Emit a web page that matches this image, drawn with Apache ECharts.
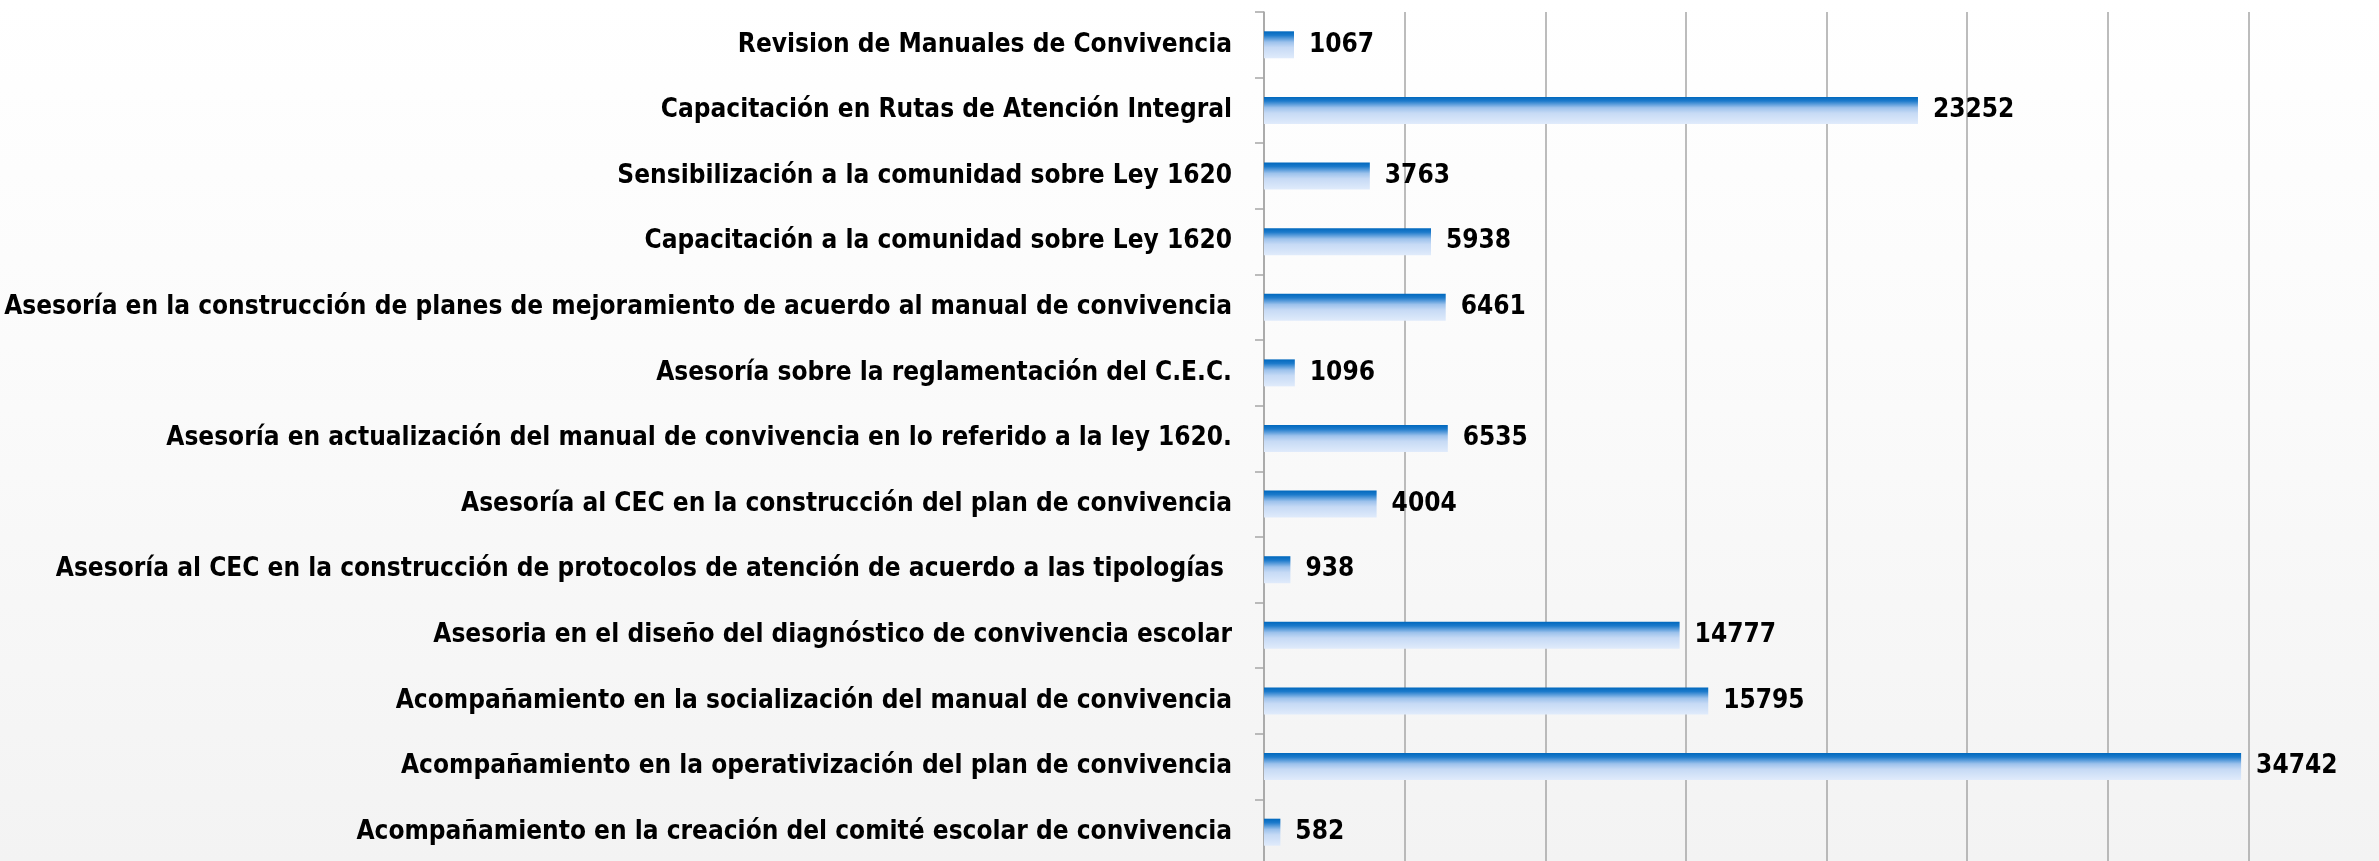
<!DOCTYPE html>
<html>
<head>
<meta charset="utf-8">
<script src="https://cdn.jsdelivr.net/npm/echarts@6/dist/echarts.min.js"></script>
<style>
html, body { margin: 0; padding: 0; }
#main { width: 2379px; height: 861px; }
</style>
</head>
<body>
<div id="main"></div>
<script>
var categories = [
    'Revision de Manuales de Convivencia',
    'Capacitación en Rutas de Atención Integral',
    'Sensibilización a la comunidad sobre Ley 1620',
    'Capacitación a la comunidad sobre Ley 1620',
    'Asesoría en la construcción de planes de mejoramiento de acuerdo al manual de convivencia',
    'Asesoría sobre la reglamentación del C.E.C.',
    'Asesoría en actualización del manual de convivencia en lo referido a la ley 1620.',
    'Asesoría al CEC en la construcción del plan de convivencia',
    'Asesoría al CEC en la construcción de protocolos de atención de acuerdo a las tipologías ',
    'Asesoria en el diseño del diagnóstico de convivencia escolar',
    'Acompañamiento en la socialización del manual de convivencia',
    'Acompañamiento en la operativización del plan de convivencia',
    'Acompañamiento en la creación del comité escolar de convivencia'
];

var values = [1067, 23252, 3763, 5938, 6461, 1096, 6535, 4004, 938, 14777, 15795, 34742, 582];

// narrow bold face, closest to the original's look
var labelFont = '"DejaVu Sans Condensed", "DejaVu Sans", sans-serif';

var chart = echarts.init(document.getElementById('main'));

var option = {
    backgroundColor: new echarts.graphic.LinearGradient(0, 0, 0, 1, [
        { offset: 0, color: '#ffffff' },
        { offset: 0.4, color: '#fbfbfb' },
        { offset: 1, color: '#f3f3f3' }
    ]),
    animation: false,
    grid: {
        left: 1264,
        top: 12,
        width: 1125,
        height: 853,
        containLabel: false,
        outerBoundsMode: 'none'
    },
    xAxis: {
        type: 'value',
        min: 0,
        max: 40000,
        interval: 5000,
        axisLabel: { show: false },
        axisLine: { show: false },
        axisTick: { show: false },
        splitLine: {
            show: true,
            lineStyle: { color: '#a6a6a6', width: 1.5 }
        }
    },
    yAxis: {
        type: 'category',
        data: categories,
        inverse: true,
        axisLine: {
            show: true,
            lineStyle: { color: '#a6a6a6', width: 1.5 }
        },
        axisTick: {
            show: true,
            length: 9,
            lineStyle: { color: '#a6a6a6', width: 1.5 }
        },
        axisLabel: {
            margin: 32,
            color: '#000000',
            fontFamily: labelFont,
            fontWeight: 'bold',
            fontSize: 26
        }
    },
    series: [{
        type: 'bar',
        data: values,
        barWidth: 27,
        itemStyle: {
            color: new echarts.graphic.LinearGradient(0, 0, 0, 1, [
                { offset: 0, color: '#0068bd' },
                { offset: 0.15, color: '#1c7acb' },
                { offset: 0.4, color: '#9dc2ec' },
                { offset: 0.6, color: '#c6daf5' },
                { offset: 1, color: '#e0ebfb' }
            ])
        },
        label: {
            show: true,
            position: 'right',
            distance: 15,
            color: '#000000',
            fontFamily: labelFont,
            fontWeight: 'bold',
            fontSize: 26
        }
    }]
};

chart.setOption(option);
</script>
</body>
</html>
